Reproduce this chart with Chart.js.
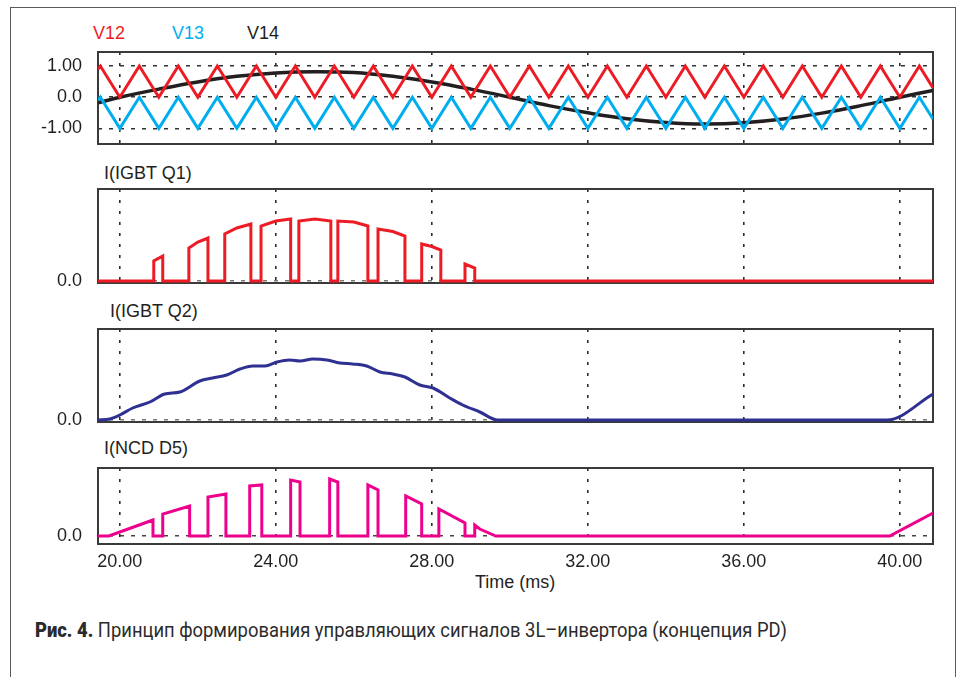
<!DOCTYPE html>
<html>
<head>
<meta charset="utf-8">
<script src="https://cdn.jsdelivr.net/npm/chart.js@4.4.1/dist/chart.umd.min.js"></script>
<style>
  html, body { margin: 0; padding: 0; background: #fff; }
  #page { position: relative; width: 959px; height: 677px; overflow: hidden;
          font-family: "Liberation Sans", Arial, sans-serif; color: #231f20; }
  #frame { position: absolute; left: 10px; top: 7px; width: 946px; height: 720px;
           border: 1.5px solid #5a5a5a; box-sizing: border-box; }
  canvas { position: absolute; }
  .lbl { position: absolute; font-size: 18px; line-height: 18px; white-space: nowrap; }
  #caption { position: absolute; left: 35px; top: 620px; font-family: Roboto, sans-serif;
             font-size: 20.5px; line-height: 20.5px; color: #2b2b2b; white-space: nowrap;
             transform-origin: 0 0; }
  #caption b { font-weight: 900; }
</style>
</head>
<body>
<div id="page">
  <div id="frame"></div>

  <div class="lbl" style="left:93px;top:24px;color:#ed1c24">V12</div>
  <div class="lbl" style="left:172px;top:24px;color:#00aeef">V13</div>
  <div class="lbl" style="left:247px;top:24px;color:#231f20">V14</div>
  <div class="lbl" style="left:104px;top:164px">I(IGBT Q1)</div>
  <div class="lbl" style="left:110px;top:302px">I(IGBT Q2)</div>
  <div class="lbl" style="left:104px;top:439px">I(NCD D5)</div>
  <div class="lbl" style="left:475px;top:573px">Time (ms)</div>

  <canvas id="p1" width="935" height="100" style="left:10px;top:48px"></canvas>
  <canvas id="p2" width="935" height="102" style="left:10px;top:185px"></canvas>
  <canvas id="p3" width="935" height="101" style="left:10px;top:325px"></canvas>
  <canvas id="p4" width="935" height="120" style="left:10px;top:464px"></canvas>

  <div id="caption"><b>Рис. 4.</b> Принцип формирования управляющих сигналов 3L–инвертора (концепция PD)</div>
</div>

<script>
// time axis (ms)
const xMin = 19.44;
const xMax = 40.85;
const xTicks = [20, 24, 28, 32, 36, 40];
const xLabels = ['20.00', '24.00', '28.00', '32.00', '36.00', '40.00'];

// carriers V12 / V13
const carrierTime = [19.44, 19.5,
  20, 20.5, 21, 21.5, 22, 22.5, 23, 23.5, 24, 24.5, 25, 25.5, 26, 26.5, 27, 27.5,
  28, 28.5, 29, 29.5, 30, 30.5, 31, 31.5, 32, 32.5, 33, 33.5, 34, 34.5, 35, 35.5,
  36, 36.5, 37, 37.5, 38, 38.5, 39, 39.5, 40, 40.5, 40.85];
const v12 = [0.9, 1,
  0, 1, 0, 1, 0, 1, 0, 1, 0, 1, 0, 1, 0, 1, 0, 1, 0, 1, 0, 1, 0, 1,
  0, 1, 0, 1, 0, 1, 0, 1, 0, 1, 0, 1, 0, 1, 0, 1, 0, 1, 0, 1, 0.3];
const v13 = [-0.1, 0,
  -1, 0, -1, 0, -1, 0, -1, 0, -1, 0, -1, 0, -1, 0, -1, 0, -1, 0, -1, 0, -1, 0,
  -1, 0, -1, 0, -1, 0, -1, 0, -1, 0, -1, 0, -1, 0, -1, 0, -1, 0, -1, 0, -0.7];

// reference V14
const v14Time = [19.44, 20, 21, 22, 23, 24, 25, 26, 27, 28, 29, 30, 31, 32, 33, 34, 35, 36, 37, 38, 39, 40, 40.85];
const v14 = [-0.18, 0, 0.26, 0.49, 0.67, 0.78, 0.82, 0.79, 0.67, 0.49, 0.26, 0,
  -0.27, -0.5, -0.69, -0.81, -0.86, -0.82, -0.7, -0.51, -0.27, 0, 0.22];

// I(IGBT Q1)
const q1Time = [19.44, 20.87, 20.87, 21.10, 21.10, 21.77, 21.77, 22.0, 22.26, 22.26,
  22.69, 22.69, 23.0, 23.36, 23.36, 23.62, 23.62, 24.0, 24.38, 24.38,
  24.59, 24.59, 25.0, 25.41, 25.41, 25.59, 25.59, 26.0, 26.36, 26.36,
  26.62, 26.62, 27.0, 27.31, 27.31, 27.74, 27.74, 28.0, 28.23, 28.23,
  28.85, 28.85, 29.10, 29.10, 40.85];
const q1 = [0, 0, 2.0, 2.5, 0, 0, 3.3, 3.9, 4.3, 0,
  0, 4.7, 5.3, 5.7, 0, 0, 5.5, 6.0, 6.2, 0,
  0, 6.0, 6.2, 6.0, 0, 0, 6.0, 5.9, 5.5, 0,
  0, 5.2, 4.95, 4.5, 0, 0, 3.7, 3.45, 3.1, 0,
  0, 1.7, 1.3, 0, 0];

// I(IGBT Q2)
const q2Time = [19.44, 19.74, 20.0, 20.33, 20.77, 21.15, 21.54, 22.05, 22.38, 22.74,
  23.08, 23.41, 23.72, 24.03, 24.36, 24.62, 24.95, 25.31, 25.64, 25.97,
  26.33, 26.67, 27.0, 27.31, 27.69, 28.03, 28.46, 28.79, 29.23, 29.69, 39.67, 40.85];
const q2 = [0, 0.1, 0.5, 1.2, 1.8, 2.6, 2.8, 3.9, 4.2, 4.5,
  5.1, 5.4, 5.4, 5.8, 6.0, 5.9, 6.1, 6.0, 5.7, 5.6,
  5.4, 4.8, 4.6, 4.3, 3.5, 3.2, 2.2, 1.5, 0.8, 0, 0, 2.6];

// I(NCD D5)
const d5Time = [19.44, 19.72, 20.85, 20.85, 21.10, 21.10, 21.79, 21.79, 22.26, 22.26,
  22.72, 22.72, 23.33, 23.33, 23.64, 23.64, 24.38, 24.38, 24.62, 24.62,
  25.38, 25.38, 25.59, 25.59, 26.36, 26.36, 26.62, 26.62, 27.33, 27.33,
  27.74, 27.74, 28.18, 28.18, 28.85, 28.85, 29.10, 29.10, 29.23, 29.64, 39.74, 40.85];
const d5 = [0, 0, 1.6, 0, 0, 2.2, 3.0, 0, 0, 3.9,
  4.2, 0, 0, 5.0, 5.1, 0, 0, 5.6, 5.4, 0,
  0, 5.7, 5.4, 0, 0, 5.1, 4.6, 0, 0, 4.0,
  3.2, 0, 0, 2.7, 1.3, 0, 0, 1.1, 0.7, 0, 0, 2.3];

const tickFont = { family: 'Liberation Sans', size: 18 };
const textColor = '#231f20';

function pts(ts, vs) {
  return ts.map((t, i) => ({ x: t, y: vs[i] }));
}

// plot frame round the chart area
const frameBox = {
  id: 'frameBox',
  beforeDatasetsDraw(chart) {
    const { ctx, chartArea: a } = chart;
    ctx.save();
    ctx.strokeStyle = '#3a3a3a';
    ctx.lineWidth = 2;
    ctx.strokeRect(a.left, a.top, a.right - a.left, a.bottom - a.top);
    ctx.restore();
  }
};

// labels are not at the ends of the axes, so drop the padding chart.js keeps for them
function noPad(s) {
  s.paddingTop = 0;
  s.paddingBottom = 0;
  s.paddingLeft = 0;
  s.paddingRight = 0;
}

function makePanel(id, datasets, yMin, yMax, yTicks, yLabels, yGridColor, showX) {
  return new Chart(document.getElementById(id), {
    type: 'line',
    data: { datasets: datasets },
    options: {
      responsive: false,
      animation: false,
      devicePixelRatio: 1,
      layout: { padding: { top: 4, right: 12, bottom: showX ? 0 : 4, left: 0 } },
      plugins: { legend: { display: false }, tooltip: { enabled: false } },
      elements: { point: { radius: 0 }, line: { borderWidth: 3, fill: false } },
      scales: {
        x: {
          type: 'linear', min: xMin, max: xMax,
          afterBuildTicks: s => { s.ticks = xTicks.map(v => ({ value: v })); },
          afterFit: s => { s.height = showX ? 40 : 0; noPad(s); },
          grid: { color: '#2b2b2b', lineWidth: 1.6, drawTicks: false },
          border: { display: false, dash: [3, 8] },
          ticks: { display: showX, padding: 7, autoSkip: false, maxRotation: 0,
                   font: tickFont, color: textColor, callback: (v, i) => xLabels[i] }
        },
        y: {
          min: yMin, max: yMax,
          afterBuildTicks: s => { s.ticks = yTicks.map(v => ({ value: v })); },
          afterFit: s => { s.width = 88; noPad(s); },
          grid: { color: yGridColor, lineWidth: 1.5, drawTicks: false },
          border: { display: false, dash: [4, 7] },
          ticks: { padding: 16, autoSkip: false, font: tickFont, color: textColor,
                   callback: (v, i) => yLabels[i] }
        }
      }
    },
    plugins: [frameBox]
  });
}

makePanel('p1', [
  { data: pts(carrierTime, v12), borderColor: '#ed1c24', tension: 0 },
  { data: pts(carrierTime, v13), borderColor: '#00aeef', tension: 0 },
  { data: pts(v14Time, v14), borderColor: '#231f20', borderWidth: 3.5, tension: 0.4 }
], -1.5, 1.45, [-1, 0, 1], ['-1.00', '0.0', '1.00'], '#333', false);

makePanel('p2', [
  { data: pts(q1Time, q1), borderColor: '#ed1c24', tension: 0 }
], -0.2, 9.2, [0], ['0.0'], '#777', false);

makePanel('p3', [
  { data: pts(q2Time, q2), borderColor: '#2e3192', cubicInterpolationMode: 'monotone' }
], -0.2, 9.1, [0], ['0.0'], '#777', false);

makePanel('p4', [
  { data: pts(d5Time, d5), borderColor: '#ec008c', tension: 0 }
], -0.8, 6.8, [0], ['0.0'], '#444', true);

// squeeze the caption to the width it has in the figure
const cap = document.getElementById('caption');
cap.style.transform = 'scaleX(' + (752 / cap.getBoundingClientRect().width) + ')';
</script>
</body>
</html>
